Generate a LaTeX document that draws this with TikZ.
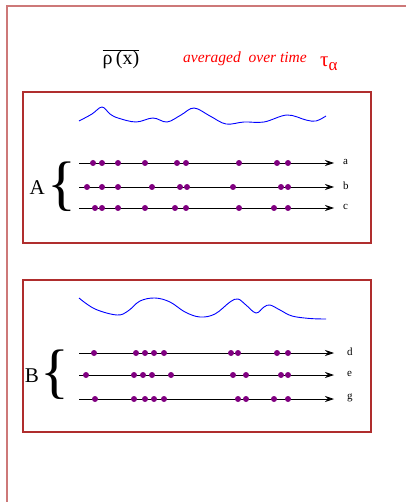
\documentclass[tikz,border=0pt]{standalone}
\usepackage{fontspec}
\setmainfont{Liberation Serif}
\usetikzlibrary{arrows.meta}

\definecolor{framered}{RGB}{205,120,120}
\definecolor{boxred}{RGB}{175,45,45}
\definecolor{boxredtop}{RGB}{176,46,46}
\definecolor{dotpurple}{RGB}{128,0,128}

\tikzset{
  box/.style={draw=boxred, line width=1.2pt},
  wave/.style={draw=blue, line width=0.9pt},
  track/.style={->, line width=0.8pt},
  ptdot/.style={fill=dotpurple},
  rowlabel/.style={anchor=west, inner sep=0pt, font=\fontsize{11}{13}\selectfont},
  grouplabel/.style={anchor=east, inner sep=0pt, font=\fontsize{21}{24}\selectfont},
  bracenode/.style={inner sep=0pt, font=\fontsize{60}{60}\selectfont}
}

\begin{document}
\begin{tikzpicture}[x=1pt, y=-1pt, >={Stealth[length=9pt, width=6pt, inset=3pt]}]
    \useasboundingbox (0,0) rectangle (405,502);

    % the two boxes
    \draw[box] (23,280) rectangle (371,432);
    \draw[box, draw=boxredtop] (23,92) rectangle (371,243);

    % outer frame, cut at right and bottom
    \draw[draw=framered, line width=2pt] (7,510) -- (7,6) -- (412,6);

    % title
    \node[anchor=base, inner sep=0pt, font=\fontsize{20}{24}\selectfont] (rho) at (121,65) {$\overline{\mbox{ρ\,(x)}}$};
    \node[anchor=base west, inner sep=0pt, text=red, font=\itshape\fontsize{15.5}{18}\selectfont] (avg) at (183,63) {averaged\ \ over time};
    \node[anchor=base west, inner sep=0pt, text=red, font=\fontsize{21}{26}\selectfont] (tau) at (320,67) {τ\raisebox{-4pt}{\fontsize{17}{20}\selectfont α}};

    % box A
    \draw[wave] plot[smooth, tension=0.6] coordinates {(79,121) (92,114) (102,107) (110,114) (118,118) (136,122) (153,118) (167,122) (181,115) (194,108) (210,116) (226,124) (244,122) (264,122) (287,115) (306,120) (316,121) (326,116)};

    \foreach \name/\y in {a/163, b/187, c/208} {
        \coordinate (\name0) at (79,\y);
        \coordinate (\name1) at (334,\y);
        \draw[track] (\name0) -- (\name1);
        \node[rowlabel] (\name) at (343,\y-1) {\name};
    }
    \foreach \x in {93,102,118,145,177,186,239,277,288} \fill[ptdot] (\x,163) circle (3);
    \foreach \x in {87,102,118,152,180,187,233,281,288} \fill[ptdot] (\x,187) circle (3);
    \foreach \x in {95,102,118,145,175,186,239,274,288} \fill[ptdot] (\x,208) circle (3);

    \node[bracenode] (braceA) at (62,187) {\{};
    \node[grouplabel] (A) at (45,188) {A};

    % box B
    \draw[wave] plot[smooth, tension=0.6] coordinates {(79,298) (95,309) (117,315) (128,311) (140,301) (155,298) (170,302) (185,312) (200,317) (215,314) (230,302) (238,299) (246,305) (256,313) (264,307) (270,305) (280,310) (292,316) (310,318.5) (326,319)};

    \foreach \name/\y in {d/353, e/375, g/399} {
        \coordinate (\name0) at (79,\y);
        \coordinate (\name1) at (334,\y);
        \draw[track] (\name0) -- (\name1);
        \node[rowlabel] (\name) at (347,\y-1) {\name};
    }
    \foreach \x in {94,136,145,154,164,231,238,277,288} \fill[ptdot] (\x,353) circle (3);
    \foreach \x in {86,134,143,152,171,233,246,281,288} \fill[ptdot] (\x,375) circle (3);
    \foreach \x in {95,134,145,154,164,238,246,274,288} \fill[ptdot] (\x,399) circle (3);

    \node[bracenode] (braceB) at (55,375) {\{};
    \node[grouplabel] (B) at (39,376) {B};
\end{tikzpicture}
\end{document}
